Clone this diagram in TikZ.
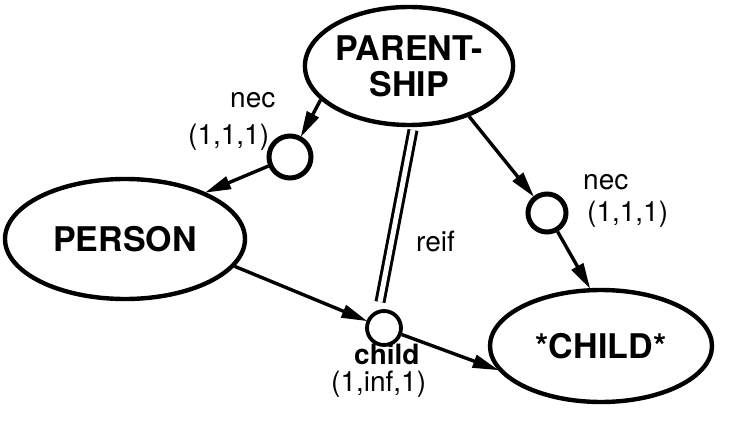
\documentclass[tikz,border=0pt]{standalone}
\usepackage{fontspec}
\setmainfont{TeX Gyre Heros}
\usetikzlibrary{shapes.geometric,arrows.meta}
\tikzset{
  ent/.style={ellipse, draw, line width=4.4pt, inner sep=0pt, font=\fontsize{34}{36}\selectfont\bfseries, align=center},
  rel/.style={circle, draw, line width=5pt, inner sep=0pt},
  conn/.style={line width=3.4pt, -{Triangle[length=26pt,width=13pt]}, shorten >=-1pt},
  lab/.style={font=\fontsize{28}{30}\selectfont, anchor=base west, inner sep=0pt},
  reifline/.style={double, double distance=5pt, line width=3pt}
}
\begin{document}
\begin{tikzpicture}[x=1pt,y=-1pt]
\useasboundingbox (0,0) rectangle (732,441);
\node[ent, minimum width=186pt, minimum height=118pt] (ps) at (409,66) {PARENT-\\SHIP};
\node[ent, minimum width=240pt, minimum height=120pt] (person) at (125,239) {PERSON};
\node[ent, minimum width=222pt, minimum height=112pt] (child) at (601,346) {*CHILD*};
\node[rel, minimum size=42pt] (c1) at (290,157) {};
\node[rel, minimum size=38pt] (c2) at (547,213) {};
\node[rel, line width=3.8pt, minimum size=34pt] (c3) at (384,328) {};
\coordinate (rt) at (413,130);
\coordinate (rb) at (380,302);
\draw[conn] (ps.201) -- (c1);
\draw[conn] (c1) -- (person.30);
\draw[conn] (ps.-40) -- (c2);
\draw[conn] (c2) -- (child.101);
\draw[conn] (person.-14) -- (c3);
\draw[conn] (c3) -- (child.193);
\draw[reifline] (rt) -- (rb);
\node[lab] (nec1) at (230,108) {nec};
\node[lab] (card1) at (188,145) {(1,1,1)};
\node[lab] (nec2) at (583,190) {nec};
\node[lab] (card2) at (587,222) {(1,1,1)};
\node[lab] (reif) at (416,252) {reif};
\node[lab, font=\fontsize{28}{30}\selectfont\bfseries] (chl) at (354,364) {child};
\node[lab] (card3) at (331,391) {(1,inf,1)};
\end{tikzpicture}
\end{document}
